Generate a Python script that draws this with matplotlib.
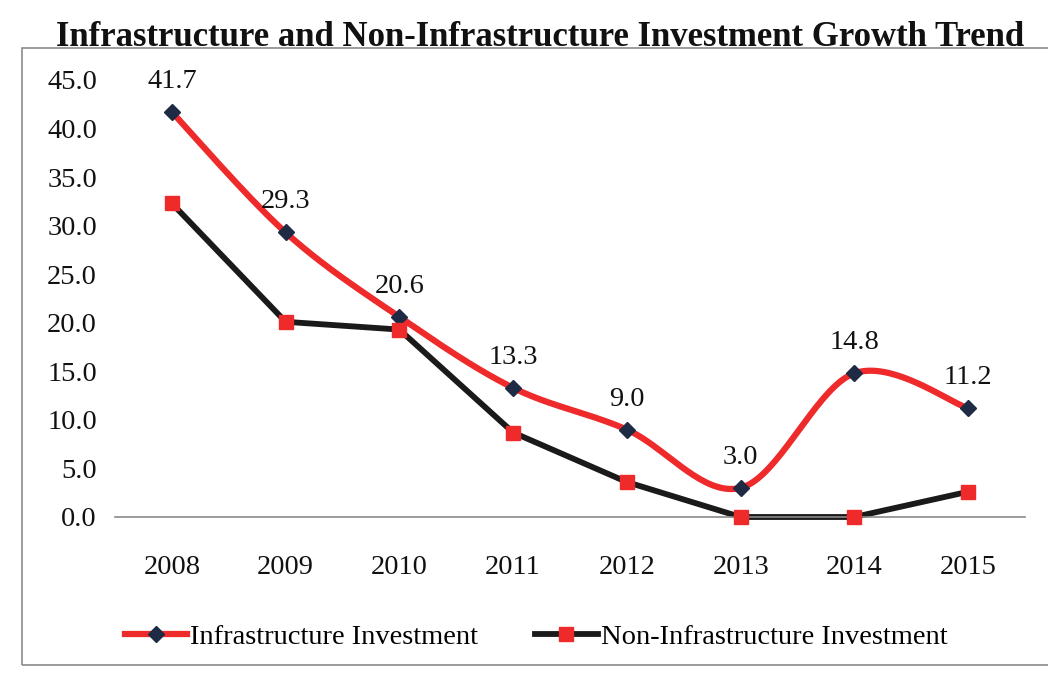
import numpy as np
import matplotlib.pyplot as plt
from matplotlib.patches import Rectangle
from matplotlib.lines import Line2D

# data
years = ["2008", "2009", "2010", "2011", "2012", "2013", "2014", "2015"]
infra = [41.7, 29.3, 20.6, 13.3, 9.0, 3.0, 14.8, 11.2]
non_infra = [32.3, 20.1, 19.3, 8.7, 3.6, 0.0, 0.0, 2.6]
y_ticks = [0, 5, 10, 15, 20, 25, 30, 35, 40, 45]

RED = "#ee2a2a"
DARK = "#1a1a1a"
NAVY = "#1f2a44"


def smooth(xs, ys, n=40):
    # Catmull-Rom style bezier like the office "smoothed line" option
    pts = np.column_stack([xs, ys]).astype(float)
    out = []
    for i in range(len(pts) - 1):
        p0 = pts[max(i - 1, 0)]
        p1 = pts[i]
        p2 = pts[i + 1]
        p3 = pts[min(i + 2, len(pts) - 1)]
        c1 = p1 + (p2 - p0) / 6
        c2 = p2 - (p3 - p1) / 6
        t = np.linspace(0, 1, n)[:, None]
        seg = ((1 - t) ** 3) * p1 + 3 * ((1 - t) ** 2) * t * c1 + 3 * (1 - t) * t ** 2 * c2 + t ** 3 * p2
        out.append(seg if i == 0 else seg[1:])
    seg = np.vstack(out)
    return seg[:, 0], seg[:, 1]


plt.rcParams["font.family"] = "Liberation Serif"
FS = 20.5

fig = plt.figure(figsize=(10.48, 6.8), dpi=100)
ax = fig.add_axes([115 / 1048, 1 - 517 / 680, 910 / 1048, 437 / 680])

x = np.arange(len(years))

# chart frame
fig.patches.append(Rectangle((22 / 1048, 15 / 680), 1.1, 617 / 680,
                             transform=fig.transFigure, fill=False,
                             edgecolor="#8a8a8a", linewidth=1.2))

sx, sy = smooth(x, infra)
ax.plot(sx, sy, color=RED, linewidth=4.5, solid_capstyle="round", zorder=3)
ax.plot(x, infra, linestyle="none", marker="D", markersize=8,
        color=NAVY, zorder=4, clip_on=False)

ax.plot(x, non_infra, color=DARK, linewidth=4.2, zorder=2, clip_on=False)
ax.plot(x, non_infra, linestyle="none", marker="s", markersize=10,
        color=RED, zorder=4, clip_on=False)

for xi, v in zip(x, infra):
    ax.annotate(f"{v:.1f}", (xi, v), xytext=(0, 13), textcoords="offset points",
                ha="center", va="bottom", fontsize=FS, color="#111111")

ax.set_xlim(-0.5, len(years) - 0.5)
ax.set_ylim(0, 45)
ax.set_yticks(y_ticks)
ax.set_yticklabels([f"{t:.1f}" for t in y_ticks])
ax.set_xticks(x)
ax.set_xticklabels(years)
ax.tick_params(axis="both", length=0, labelsize=FS, colors="#111111")
ax.tick_params(axis="x", pad=27)
ax.tick_params(axis="y", pad=13)

for side in ["top", "right", "left"]:
    ax.spines[side].set_visible(False)
ax.spines["bottom"].set_color("#8a8a8a")
ax.spines["bottom"].set_linewidth(1.2)
ax.set_facecolor("none")

fig.text(540 / 1048, 1 - 38 / 680,
         "Infrastructure and Non-Infrastructure Investment Growth Trend",
         ha="center", va="center", fontsize=25, fontweight="bold", color="#111111")

handles = [
    Line2D([], [], color=RED, linewidth=4.5, marker="D", markersize=8,
           markerfacecolor=NAVY, markeredgecolor=NAVY),
    Line2D([], [], color=DARK, linewidth=4.2, marker="s", markersize=10,
           markerfacecolor=RED, markeredgecolor=RED),
]
fig.legend(handles, ["Infrastructure Investment", "Non-Infrastructure Investment"],
           loc="center", bbox_to_anchor=(536 / 1048, 1 - 637 / 680), ncol=2,
           frameon=False, fontsize=FS, handlelength=2.2, handletextpad=0.1,
           columnspacing=2.0)

fig.savefig("out.png", dpi=100, facecolor="white")
